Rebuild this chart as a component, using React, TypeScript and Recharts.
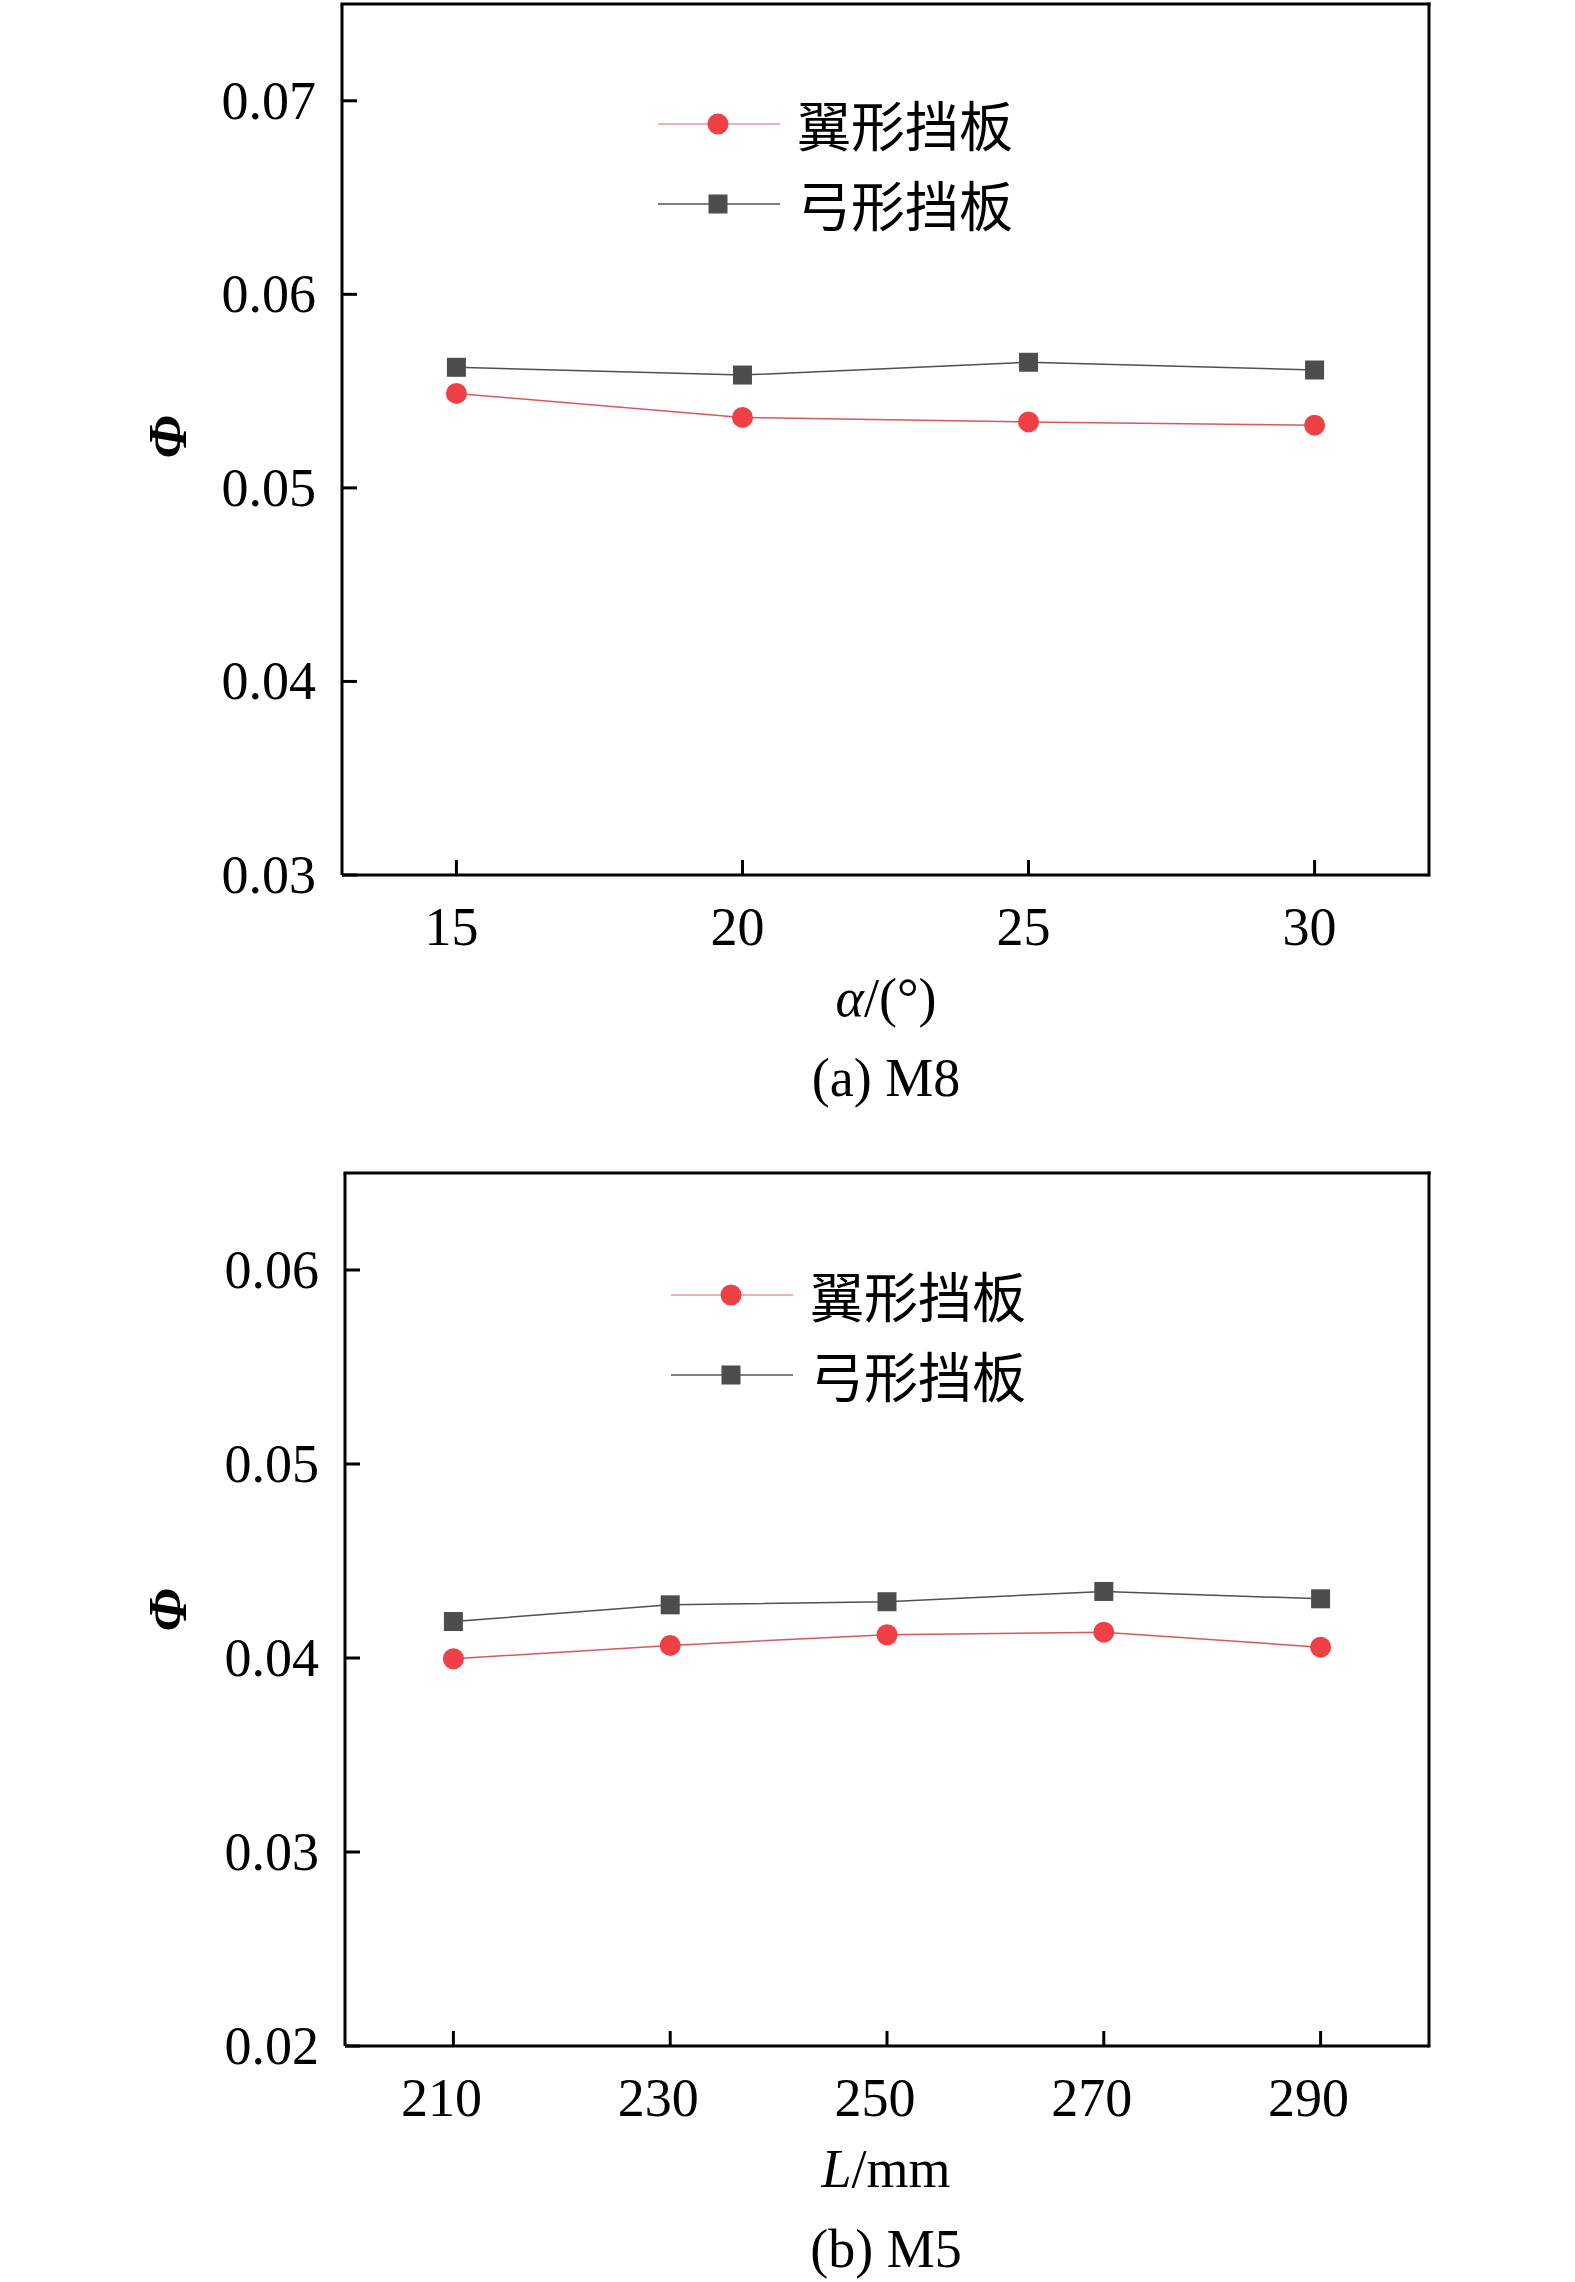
import React from "react";
import { LineChart, Line, XAxis, YAxis, ReferenceLine, Legend } from "recharts";

// (a) M8: phi against baffle angle
const anglesM8 = [15, 20, 25, 30];
const wingM8 = [0.05488, 0.05364, 0.05341, 0.05324];
const bowM8 = [0.05623, 0.05583, 0.05649, 0.05609];
const angleTicks = [15, 20, 25, 30];
const phiTicksM8 = [0.03, 0.04, 0.05, 0.06, 0.07];

// (b) M5: phi against baffle length
const lengthsM5 = [210, 230, 250, 270, 290];
const wingM5 = [0.03996, 0.04065, 0.0412, 0.04133, 0.04056];
const bowM5 = [0.04188, 0.04274, 0.0429, 0.04343, 0.04305];
const lengthTicks = [210, 230, 250, 270, 290];
const phiTicksM5 = [0.02, 0.03, 0.04, 0.05, 0.06];

const WING_NAME = "翼形挡板";
const BOW_NAME = "弓形挡板";
const legendOrder = [WING_NAME, BOW_NAME];

const SERIF = "'Times New Roman', 'Liberation Serif', serif";
const CJK = "'Noto Sans CJK SC', 'Noto Sans CJK JP', sans-serif";
const FONT_SIZE = 54;
const RED = "#ef4145";
const RED_LINE = "#d9585b";
const GRAY = "#4d4d4d";
const GRAY_LINE = "#505050";

function XTick(props: any) {
  const { x, y, payload, shift = 0 } = props;
  return (
    <g>
      <line x1={x} y1={y} x2={x} y2={y - 15} stroke="#000" strokeWidth={3} />
      <text x={x + shift} y={y + 70} textAnchor="middle" fontFamily={SERIF} fontSize={FONT_SIZE} fill="#000">
        {payload.value}
      </text>
    </g>
  );
}

function YTick(props: any) {
  const { x, y, payload } = props;
  return (
    <g>
      <line x1={x} y1={y} x2={x + 15} y2={y} stroke="#000" strokeWidth={3} />
      <text x={x - 26} y={y + 18} textAnchor="end" fontFamily={SERIF} fontSize={FONT_SIZE} fill="#000">
        {Number(payload.value).toFixed(2)}
      </text>
    </g>
  );
}

function SquareDot(props: any) {
  const { cx, cy, index } = props;
  if (cx == null || cy == null) return null;
  return <rect key={`sq-${index}`} x={cx - 9.5} y={cy - 9.5} width={19} height={19} fill={GRAY} />;
}

function LegendBox({ payload }: any) {
  const items = [...(payload || [])].sort(
    (a: any, b: any) => legendOrder.indexOf(a.value) - legendOrder.indexOf(b.value)
  );
  return (
    <div>
      {items.map((entry: any) => {
        const isWing = entry.value === WING_NAME;
        return (
          <div key={entry.value} style={{ display: "flex", alignItems: "center", height: 80 }}>
            <svg width={122} height={30} style={{ display: "block" }}>
              <line x1={0} y1={15} x2={122} y2={15} stroke={isWing ? "#e39a9b" : "#555"} strokeWidth={1.5} />
              {isWing ? (
                <circle cx={60} cy={15} r={10.5} fill={RED} />
              ) : (
                <rect x={50.5} y={5.5} width={19} height={19} fill={GRAY} />
              )}
            </svg>
            <span style={{ marginLeft: 17, fontFamily: CJK, fontSize: FONT_SIZE, lineHeight: "80px", color: "#000" }}>
              {entry.value}
            </span>
          </div>
        );
      })}
    </div>
  );
}

function Caption({ left, top, children, rotate }: { left: number; top: number; children: React.ReactNode; rotate?: boolean }) {
  return (
    <div
      style={{
        position: "absolute",
        left,
        top,
        transform: rotate ? "translate(-50%, -50%) rotate(-90deg)" : "translate(-50%, -50%)",
        fontFamily: SERIF,
        fontSize: FONT_SIZE,
        lineHeight: 1,
        whiteSpace: "nowrap",
        color: "#000",
      }}
    >
      {children}
    </div>
  );
}

interface PanelProps {
  rows: Array<{ x: number; wing: number; bow: number }>;
  xDomain: [number, number];
  xTicks: number[];
  yDomain: [number, number];
  yTicks: number[];
  top: number;
  plotTop: number;
  yAxisWidth: number;
  xAxisHeight: number;
  legendLeft: number;
  legendTop: number;
  labelShift: number;
}

function Panel({ rows, xDomain, xTicks, yDomain, yTicks, top, plotTop, yAxisWidth, xAxisHeight, legendLeft, legendTop, labelShift }: PanelProps) {
  return (
    <div style={{ position: "absolute", left: 0, top }}>
      <LineChart width={1575} height={1141} data={rows} margin={{ top: plotTop, right: 146, bottom: 0, left: 0 }}>
        <XAxis
          dataKey="x"
          type="number"
          domain={xDomain}
          ticks={xTicks}
          height={xAxisHeight}
          tickSize={0}
          tickMargin={0}
          tickLine={false}
          axisLine={{ stroke: "#000", strokeWidth: 3 }}
          tick={<XTick shift={labelShift} />}
          interval={0}
        />
        <YAxis
          type="number"
          domain={yDomain}
          ticks={yTicks}
          width={yAxisWidth}
          tickSize={0}
          tickMargin={0}
          tickLine={false}
          axisLine={{ stroke: "#000", strokeWidth: 3 }}
          tick={<YTick />}
          interval={0}
        />
        <ReferenceLine y={yDomain[1]} stroke="#000" strokeWidth={3} strokeLinecap="square" />
        <ReferenceLine x={xDomain[1]} stroke="#000" strokeWidth={3} strokeLinecap="square" />
        <Legend
          layout="vertical"
          align="center"
          verticalAlign="middle"
          content={<LegendBox />}
          wrapperStyle={{ left: legendLeft, top: legendTop, width: 420, height: 160 }}
        />
        <Line
          type="linear"
          dataKey="wing"
          name={WING_NAME}
          stroke={RED_LINE}
          strokeWidth={1.5}
          dot={{ r: 10.5, fill: RED, stroke: RED, strokeWidth: 0 }}
          activeDot={false}
          isAnimationActive={false}
        />
        <Line
          type="linear"
          dataKey="bow"
          name={BOW_NAME}
          stroke={GRAY_LINE}
          strokeWidth={1.5}
          dot={<SquareDot />}
          activeDot={false}
          isAnimationActive={false}
        />
      </LineChart>
    </div>
  );
}

export default function App() {
  const rowsM8 = anglesM8.map((x, i) => ({ x, wing: wingM8[i], bow: bowM8[i] }));
  const rowsM5 = lengthsM5.map((x, i) => ({ x, wing: wingM5[i], bow: bowM5[i] }));

  return (
    <div style={{ position: "absolute", left: 0, top: 0, width: 1575, height: 2282, background: "#fff", overflow: "hidden" }}>
      <Panel
        rows={rowsM8}
        xDomain={[13, 32]}
        xTicks={angleTicks}
        yDomain={[0.03, 0.075]}
        yTicks={phiTicksM8}
        top={0}
        plotTop={4}
        yAxisWidth={342}
        xAxisHeight={266}
        legendLeft={658}
        legendTop={84}
        labelShift={-5}
      />
      <Caption left={168} top={437} rotate>
        <i style={{ fontWeight: "bold" }}>Φ</i>
      </Caption>
      <Caption left={886} top={998}>
        <i>α</i>/(°)
      </Caption>
      <Caption left={886} top={1078}>(a) M8</Caption>

      <Panel
        rows={rowsM5}
        xDomain={[200, 300]}
        xTicks={lengthTicks}
        yDomain={[0.02, 0.065]}
        yTicks={phiTicksM5}
        top={1141}
        plotTop={32}
        yAxisWidth={345}
        xAxisHeight={236}
        legendLeft={671}
        legendTop={114}
        labelShift={-12}
      />
      <Caption left={168} top={1610} rotate>
        <i style={{ fontWeight: "bold" }}>Φ</i>
      </Caption>
      <Caption left={886} top={2169}>
        <i>L</i>/mm
      </Caption>
      <Caption left={886} top={2249}>(b) M5</Caption>
    </div>
  );
}
